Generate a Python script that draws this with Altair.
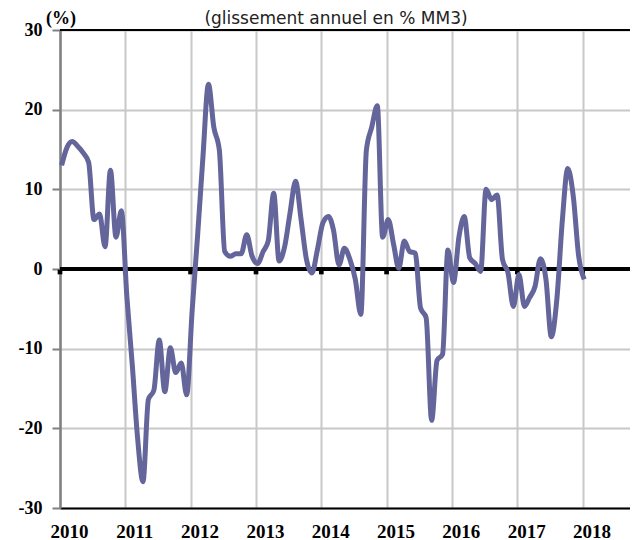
import altair as alt
import pandas as pd

# Monthly values (glissement annuel en % MM3), Jan 2010 .. Jan 2018
v2010 = [13.0, 15.3, 16.0, 15.4, 14.6, 13.4, 6.2, 6.9, 2.8, 12.4, 4.0, 7.3]
v2011 = [-3.5, -12.3, -21.0, -26.7, -16.4, -15.2, -8.9, -15.4, -9.9, -13.0, -11.8, -15.8]
v2012 = [-5.2, 4.4, 14.0, 23.2, 17.8, 14.9, 2.2, 1.6, 1.9, 1.9, 4.3, 1.6]
v2013 = [0.7, 2.2, 3.5, 9.5, 1.0, 2.8, 7.0, 11.0, 6.2, 1.2, -0.5, 2.4]
v2014 = [5.8, 6.6, 4.9, 0.5, 2.6, 1.2, -1.3, -5.7, 14.9, 17.8, 20.5, 4.0]
v2015 = [6.2, 3.0, 0.1, 3.5, 2.2, 2.0, -4.9, -6.1, -19.0, -11.5, -10.7, 2.4]
v2016 = [-1.7, 4.1, 6.6, 1.4, 0.7, -0.3, 10.0, 8.7, 9.3, 1.2, -0.5, -4.7]
v2017 = [-0.7, -4.7, -3.6, -2.2, 1.3, -1.3, -8.5, -3.8, 6.2, 12.6, 9.1, 1.6]
v2018 = [-1.3]

years = ["2010", "2011", "2012", "2013", "2014", "2015", "2016", "2017", "2018"]
y_ticks = [-30, -20, -10, 0, 10, 20, 30]
title_text = "(glissement annuel en % MM3)"
unit_text = "(%)"

values = v2010 + v2011 + v2012 + v2013 + v2014 + v2015 + v2016 + v2017 + v2018
dates = (pd.date_range("2010-01-01", periods=len(values), freq="MS")
         + pd.Timedelta(days=9)).strftime("%Y-%m-%d").tolist()
df = pd.DataFrame({"date": dates, "value": values})

year_df = pd.DataFrame({"date": [f"{y}-01-01" for y in years], "value": [0] * len(years)})

x_scale = alt.Scale(type="utc",
                    domain=[alt.DateTime(year=2010, month=1, date=1, utc=True),
                            alt.DateTime(year=2018, month=9, date=23, utc=True)])
y_scale = alt.Scale(domain=[-30, 30], nice=False)

x_axis = alt.Axis(
    values=[alt.DateTime(year=int(y), month=1, date=1, utc=True) for y in years],
    format="%Y", formatType="utc", title=None,
    labelFont="Liberation Serif", labelFontWeight="bold", labelFontSize=19,
    labelColor="black", labelPadding=14, labelOffset=9, labelFlush=False,
    labelOverlap=False, tickSize=0,
    domainColor="black", domainWidth=2,
    grid=True, gridColor="#c8c8c8", gridWidth=2,
)
y_axis = alt.Axis(
    values=y_ticks, title=None,
    labelExpr="datum.value < 0 ? '-' + abs(datum.value) : '' + datum.value",
    labelFont="Liberation Serif", labelFontWeight="bold", labelFontSize=18,
    labelColor="black", labelPadding=10,
    tickSize=8, tickColor="#808080", tickWidth=2,
    domainColor="#808080", domainWidth=2.5,
    grid=True, gridColor="#c8c8c8", gridWidth=2,
)

base = alt.Chart(df).mark_line(
    color="#64659a", strokeWidth=5, interpolate="monotone", strokeJoin="round"
).encode(
    x=alt.X("date:T", scale=x_scale, axis=x_axis),
    y=alt.Y("value:Q", scale=y_scale, axis=y_axis),
)

zero = alt.Chart(pd.DataFrame({"y": [0]})).mark_rule(color="black", strokeWidth=4).encode(
    y=alt.Y("y:Q", scale=y_scale)
)
top = alt.Chart(pd.DataFrame({"y": [30]})).mark_rule(color="black", strokeWidth=2).encode(
    y=alt.Y("y:Q", scale=y_scale)
)
ticks = alt.Chart(year_df).mark_square(color="black", size=22, opacity=1, yOffset=3).encode(
    x=alt.X("date:T", scale=x_scale),
    y=alt.Y("value:Q", scale=y_scale),
)

title = alt.Chart(pd.DataFrame({"t": [title_text]})).mark_text(
    font="DejaVu Sans", fontSize=17, color="#222222", align="center", baseline="alphabetic"
).encode(x=alt.value(276), y=alt.value(-6), text="t:N")

unit = alt.Chart(pd.DataFrame({"t": [unit_text]})).mark_text(
    font="Liberation Serif", fontSize=18, fontWeight="bold", color="black",
    align="center", baseline="alphabetic"
).encode(x=alt.value(1), y=alt.value(-6), text="t:N")

chart = alt.layer(zero, top, ticks, base, title, unit).properties(
    width=570, height=478,
    autosize=alt.AutoSizeParams(type="none"),
    padding={"left": 52, "top": 22, "right": 0, "bottom": 32},
).configure_view(stroke=None).configure(background="white")

chart.save("out.html", embed_options={"renderer": "svg", "actions": False})
